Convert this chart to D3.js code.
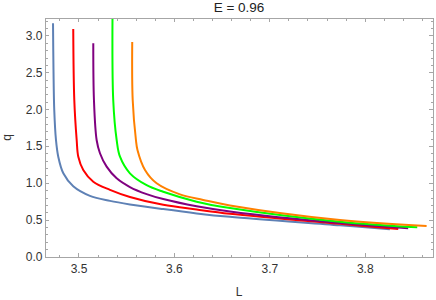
<!DOCTYPE html>
<html>
<head>
<meta charset="utf-8">
<script src="https://cdn.jsdelivr.net/npm/d3@7"></script>
<style>
  html, body { margin: 0; padding: 0; background: #fff; }
  svg { display: block; }
  text { font-family: "Liberation Sans", Arial, sans-serif; }
</style>
</head>
<body>
<svg id="chart" width="436" height="300"></svg>
<script>
// ---- data ----
const title = "E = 0.96";
const xLabel = "L";
const yLabel = "q";
const xTicks = [3.5, 3.6, 3.7, 3.8];
const yTicks = [0.0, 0.5, 1.0, 1.5, 2.0, 2.5, 3.0];

const blueL   = [3.4728, 3.4733, 3.4741, 3.4759, 3.4783, 3.4836, 3.4940, 3.5115, 3.5325, 3.5534, 3.5883, 3.6233, 3.6582, 3.7735, 3.8258];
const blueQ   = [3.172, 2.538, 1.995, 1.588, 1.361, 1.136, 0.960, 0.830, 0.762, 0.714, 0.650, 0.592, 0.545, 0.430, 0.376];

const redL    = [3.4940, 3.4951, 3.4976, 3.4993, 3.5045, 3.5150, 3.5325, 3.5534, 3.5883, 3.6233, 3.6582, 3.7735, 3.8346];
const redQ    = [3.095, 2.131, 1.588, 1.361, 1.181, 1.022, 0.912, 0.815, 0.708, 0.645, 0.588, 0.450, 0.380];

const purpleL = [3.5150, 3.5157, 3.5185, 3.5220, 3.5290, 3.5395, 3.5534, 3.5709, 3.5883, 3.6233, 3.6582, 3.7735, 3.8450];
const purpleQ = [2.901, 2.131, 1.588, 1.408, 1.226, 1.068, 0.950, 0.854, 0.786, 0.688, 0.618, 0.460, 0.390];

const greenL  = [3.5352, 3.5359, 3.5395, 3.5430, 3.5534, 3.5709, 3.5883, 3.6233, 3.6582, 3.7735, 3.8545];
const greenQ  = [3.40, 2.131, 1.588, 1.361, 1.136, 0.975, 0.886, 0.751, 0.665, 0.479, 0.403];

const orangeL = [3.5558, 3.5563, 3.5597, 3.5613, 3.5692, 3.5814, 3.6058, 3.6302, 3.6582, 3.7735, 3.8643];
const orangeQ = [2.918, 2.131, 1.588, 1.452, 1.181, 1.000, 0.850, 0.775, 0.700, 0.502, 0.421];

const seriesNames  = ["blue", "red", "purple", "green", "orange"];
const seriesColors = ["#5E81B5", "#FF0000", "#800080", "#00FF00", "#FF8000"];
const seriesL = [blueL, redL, purpleL, greenL, orangeL];
const seriesQ = [blueQ, redQ, purpleQ, greenQ, orangeQ];

// ---- layout ----
const svg = d3.select("#chart");
const plot = { left: 45, right: 433, top: 18, bottom: 257 };

const x = d3.scaleLinear().domain([3.4644, 3.8710]).range([plot.left, plot.right]);
const y = d3.scaleLinear().domain([0, 3.244]).range([plot.bottom, plot.top]);

const frameColor = "#a6a6a6";
const labelColor = "#333";

svg.append("defs").append("clipPath").attr("id", "clip")
  .append("rect")
  .attr("x", plot.left).attr("y", plot.top)
  .attr("width", plot.right - plot.left).attr("height", plot.bottom - plot.top);

// curves
const line = d3.line().x(d => x(d[0])).y(d => y(d[1])).curve(d3.curveCatmullRom.alpha(0.5));
const g = svg.append("g").attr("clip-path", "url(#clip)");
seriesNames.forEach((name, i) => {
  const pts = seriesL[i].map((l, j) => [l, seriesQ[i][j]]);
  g.append("path")
    .datum(pts)
    .attr("d", line)
    .attr("fill", "none")
    .attr("stroke", seriesColors[i])
    .attr("stroke-width", 2)
    .attr("stroke-linejoin", "round")
    .attr("stroke-linecap", "butt");
});

// frame
svg.append("rect")
  .attr("x", plot.left).attr("y", plot.top)
  .attr("width", plot.right - plot.left).attr("height", plot.bottom - plot.top)
  .attr("fill", "none").attr("stroke", frameColor).attr("stroke-width", 1)
  .attr("shape-rendering", "crispEdges");

// ticks
const xMinor = d3.range(3.46, 3.871, 0.02).filter(v => v >= 3.4644 && v <= 3.871);
const yMinor = d3.range(0, 3.25, 0.1);
const tickG = svg.append("g").attr("stroke", frameColor).attr("stroke-width", 1).attr("shape-rendering", "crispEdges");
function isMajor(v, arr) { return arr.some(t => Math.abs(t - v) < 1e-6); }
xMinor.forEach(v => {
  const len = isMajor(v, xTicks) ? 4 : 2.5;
  tickG.append("line").attr("x1", x(v)).attr("x2", x(v)).attr("y1", plot.bottom).attr("y2", plot.bottom - len);
  tickG.append("line").attr("x1", x(v)).attr("x2", x(v)).attr("y1", plot.top).attr("y2", plot.top + len);
});
yMinor.forEach(v => {
  const len = isMajor(v, yTicks) ? 4 : 2.5;
  tickG.append("line").attr("x1", plot.left).attr("x2", plot.left + len).attr("y1", y(v)).attr("y2", y(v));
  tickG.append("line").attr("x1", plot.right).attr("x2", plot.right - len).attr("y1", y(v)).attr("y2", y(v));
});

// tick labels
svg.append("g").selectAll("text").data(xTicks).join("text")
  .attr("x", d => x(d)).attr("y", plot.bottom + 16)
  .attr("text-anchor", "middle").attr("font-size", 12).attr("fill", labelColor)
  .text(d => d3.format(".1f")(d));
svg.append("g").selectAll("text").data(yTicks).join("text")
  .attr("x", plot.left - 2.5).attr("y", d => y(d) + 4)
  .attr("text-anchor", "end").attr("font-size", 12).attr("fill", labelColor)
  .text(d => d3.format(".1f")(d));

// axis labels and title
svg.append("text").attr("x", (plot.left + plot.right) / 2).attr("y", 296)
  .attr("text-anchor", "middle").attr("font-size", 12).attr("fill", labelColor).text(xLabel);
svg.append("text")
  .attr("transform", `translate(11, ${(plot.top + plot.bottom) / 2}) rotate(-90)`)
  .attr("text-anchor", "middle").attr("font-size", 12).attr("fill", labelColor).text(yLabel);
svg.append("text").attr("x", (plot.left + plot.right) / 2).attr("y", 12)
  .attr("text-anchor", "middle").attr("font-size", 13.5).attr("fill", "#222").text(title);
</script>
</body>
</html>
